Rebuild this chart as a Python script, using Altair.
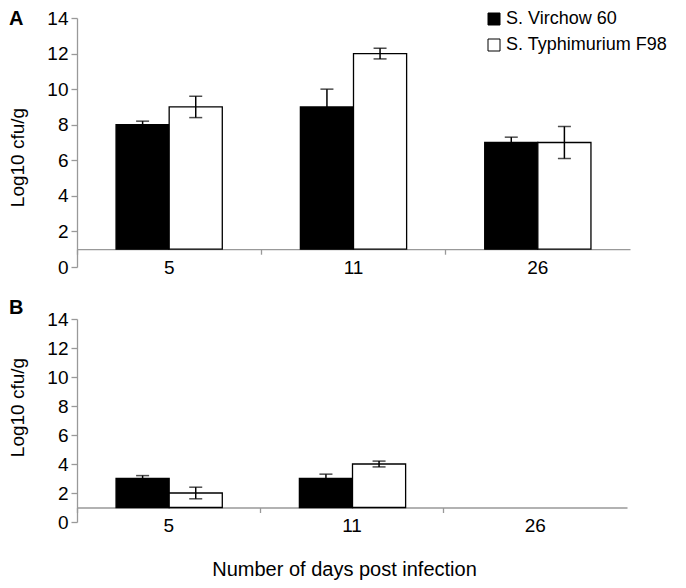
import altair as alt
import pandas as pd

FONT = "Liberation Sans"
GRAY = "#999999"

days = ["5", "11", "26"]
strains = ["S. Virchow 60", "S. Typhimurium F98"]
y_ticks = [0, 2, 4, 6, 8, 10, 12, 14]

# Panel A
a_virchow = [8, 9, 7]
a_virchow_err = [0.2, 1.0, 0.3]
a_typh = [9, 12, 7]
a_typh_err = [0.6, 0.3, 0.9]

# Panel B (no bars at day 26)
b_virchow = [3, 3, None]
b_virchow_err = [0.2, 0.3, None]
b_typh = [2, 4, None]
b_typh_err = [0.4, 0.2, None]


def make_df(v1, e1, v2, e2):
    rows = []
    for d, v, e in zip(days, v1, e1):
        rows.append((d, strains[0], v, e))
    for d, v, e in zip(days, v2, e2):
        rows.append((d, strains[1], v, e))
    df = pd.DataFrame(rows, columns=["day", "strain", "value", "err"])
    df["lo"] = df["value"] - df["err"]
    df["hi"] = df["value"] + df["err"]
    return df


def panel(df, letter, w, h, show_legend, xtitle, letter_y, ytitle_y):
    unit = h / 14.0
    if xtitle:
        x_axis = alt.Axis(title=xtitle, bandPosition=0, offset=-unit, titleX=267)
    else:
        x_axis = alt.Axis(title=None, bandPosition=0, offset=-unit)
    x = alt.X("day:N", sort=days,
              scale=alt.Scale(domain=days, paddingInner=0, paddingOuter=0),
              axis=x_axis)
    xo = alt.XOffset("strain:N", sort=strains,
                     scale=alt.Scale(domain=strains, paddingInner=0, paddingOuter=0.735))
    y_scale = alt.Scale(domain=[0, 14], nice=False, zero=True)
    y_axis = alt.Axis(title="Log10 cfu/g", values=y_ticks, titleY=ytitle_y, titleX=-50)
    if show_legend:
        legend = alt.Legend(
            title=None, orient="none", legendX=408, legendY=-8,
            symbolType="square", symbolSize=144, symbolStrokeColor="black",
            symbolStrokeWidth=1, labelFontSize=18, labelFont=FONT, labelColor="black",
            rowPadding=8, labelOffset=3, padding=0, labelLimit=0,
        )
    else:
        legend = None
    fill = alt.Fill("strain:N", sort=strains,
                    scale=alt.Scale(domain=strains, range=["black", "white"]),
                    legend=legend)

    base = alt.Chart(df)
    bars = base.mark_bar(stroke="black", strokeWidth=1.3).encode(
        x=x, xOffset=xo,
        y=alt.Y("value:Q", scale=y_scale, axis=y_axis),
        y2=alt.datum(1),
        fill=fill,
    )
    rules = base.mark_rule(color="black", strokeWidth=1.5).encode(
        x=x, xOffset=xo,
        y=alt.Y("lo:Q", scale=y_scale, axis=y_axis),
        y2="hi:Q",
    )
    cap_lo = base.mark_tick(color="black", thickness=1.5, size=13).encode(
        x=x, xOffset=xo, y=alt.Y("lo:Q", scale=y_scale, axis=y_axis),
    )
    cap_hi = base.mark_tick(color="black", thickness=1.5, size=13).encode(
        x=x, xOffset=xo, y=alt.Y("hi:Q", scale=y_scale, axis=y_axis),
    )
    lab = alt.Chart(pd.DataFrame({"t": [letter]})).mark_text(
        font=FONT, fontSize=20, fontWeight="bold", align="left",
        baseline="middle", color="black",
    ).encode(text="t:N", x=alt.value(-68), y=alt.value(letter_y))
    return alt.layer(bars, rules, cap_lo, cap_hi, lab).properties(width=w, height=h)


df_a = make_df(a_virchow, a_virchow_err, a_typh, a_typh_err)
df_b = make_df(b_virchow, b_virchow_err, b_typh, b_typh_err)

pa = panel(df_a, "A", 553, 249, True, None, 1, 139)
pb = panel(df_b, "B", 550, 203, False, "Number of days post infection", -11, 88)

chart = (
    alt.vconcat(pa, pb, spacing=20)
    .configure(font=FONT, padding={"top": 1, "left": 0, "right": 0, "bottom": 0})
    .configure_view(stroke=None)
    .configure_axis(
        grid=False, domainColor=GRAY, domainWidth=1.3, tickColor=GRAY, tickWidth=1.3,
        labelColor="black", labelFont=FONT, labelFontSize=19,
        titleColor="black", titleFont=FONT, titleFontWeight="normal",
    )
    .configure_axisX(tickSize=5, labelAngle=0, labelPadding=4, titleFontSize=20, titlePadding=24)
    .configure_axisY(tickSize=6, labelPadding=3, titleFontSize=19)
)

chart.save("out.html", embed_options={"renderer": "svg", "actions": False})
